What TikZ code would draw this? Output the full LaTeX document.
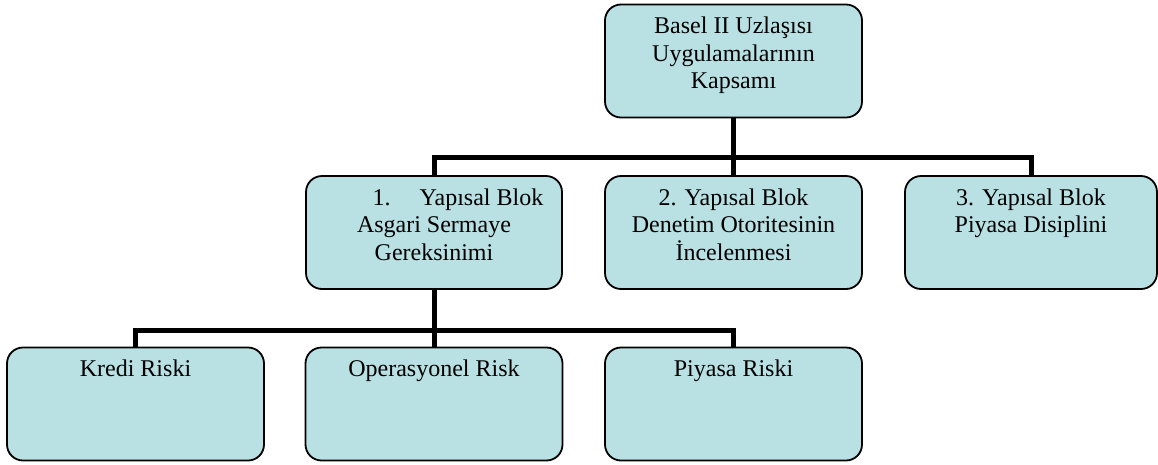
\documentclass[tikz,border=0pt]{standalone}
\usepackage{fontspec}
\setmainfont{Liberation Serif}
\usetikzlibrary{calc}
\definecolor{boxfill}{RGB}{185,224,227}
\begin{document}
\begin{tikzpicture}[x=1pt,y=-1pt,
  blockbox/.style={draw=black, line width=1.8pt, fill=boxfill, rounded corners=16pt,
    minimum width=257pt, minimum height=113pt, inner sep=0pt, outer sep=0pt},
  blocktext/.style={anchor=north, inner sep=0pt, align=center,
    font=\fontsize{24pt}{27.5pt}\selectfont},
  conn/.style={line width=5pt, line join=miter}]
\useasboundingbox (0,0) rectangle (1158,464);

% top level
\node[blockbox] (top) at (733.5,61) {};
% second level
\node[blockbox, minimum width=256pt] (b1) at (434,232.5) {};
\node[blockbox] (b2) at (733.5,232.5) {};
\node[blockbox, minimum width=252pt] (b3) at (1031,232.5) {};
% third level
\node[blockbox] (c1) at (135.5,404) {};
\node[blockbox] (c2) at (434,404) {};
\node[blockbox] (c3) at (733.5,404) {};

% junction points of the thick bars
\coordinate (j1) at (733.5,157.5);
\coordinate (j2) at (434,330);

% connectors
\draw[conn] (top.south) -- (b2.north);
\draw[conn] (b1.north) |- (j1) -| (b3.north);
\draw[conn] (b1.south) -- (c2.north);
\draw[conn] (c1.north) |- (j2) -| (c3.north);

% labels
\node[blocktext] (ttop) at ($(top.north)+(0,12.6)$) {Basel II Uzlaşısı\\Uygulamalarının\\Kapsamı};
\node[blocktext] (tb1) at ($(b1.north)+(0,12.6)$) {\hspace*{48pt}1.\hspace{29pt}Yapısal Blok\\Asgari Sermaye\\Gereksinimi};
\node[blocktext] (tb2) at ($(b2.north)+(0,12.6)$) {2. Yapısal Blok\\Denetim Otoritesinin\\İncelenmesi};
\node[blocktext] (tb3) at ($(b3.north)+(0,12.6)$) {3. Yapısal Blok\\Piyasa Disiplini};
\node[blocktext] (tc1) at ($(c1.north)+(0,12.6)$) {Kredi Riski};
\node[blocktext] (tc2) at ($(c2.north)+(0,12.6)$) {Operasyonel Risk};
\node[blocktext] (tc3) at ($(c3.north)+(0,12.6)$) {Piyasa Riski};
\end{tikzpicture}
\end{document}
